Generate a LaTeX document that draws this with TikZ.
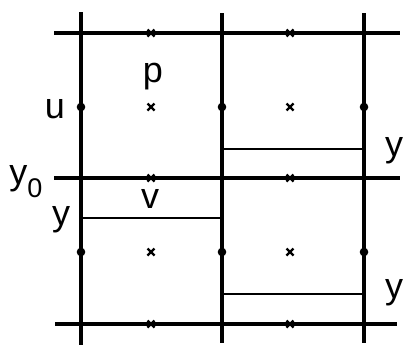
\documentclass[tikz,border=0pt]{standalone}
\usepackage{fontspec}
\setmainfont{Liberation Sans}
\usetikzlibrary{calc}
\tikzset{
  gridline/.style={line width=3.3pt},
  cutline/.style={line width=2pt},
  lab/.style={font=\fontsize{36}{36}\selectfont, inner sep=0pt, anchor=base}
}
\newcommand{\xmark}[1]{%
  \draw[line width=2.3pt] ($(#1)+(-3.5,-3.5)$) -- ($(#1)+(3.5,3.5)$);
  \draw[line width=2.3pt] ($(#1)+(-3.5,3.5)$) -- ($(#1)+(3.5,-3.5)$);}

\begin{document}
\begin{tikzpicture}[x=1pt,y=-1pt]
  \useasboundingbox (0,0) rectangle (403,349);
  % ends of the grid lines
  \coordinate (aT) at (81,12);   \coordinate (aB) at (81,345);
  \coordinate (bT) at (222,13);  \coordinate (bB) at (222,343);
  \coordinate (cT) at (364,13);  \coordinate (cB) at (364,343);
  \coordinate (hL1) at (54,33);  \coordinate (hR1) at (400,33);
  \coordinate (hL2) at (54,178); \coordinate (hR2) at (400,178);
  \coordinate (hL3) at (55,324); \coordinate (hR3) at (397,324);
  \draw[gridline] (aT) -- (aB);
  \draw[gridline] (bT) -- (bB);
  \draw[gridline] (cT) -- (cB);
  \draw[gridline] (hL1) -- (hR1);
  \draw[gridline] (hL2) -- (hR2);   % y_0
  \draw[gridline] (hL3) -- (hR3);
  % the shifted levels y
  \coordinate (s1) at (222,149); \coordinate (t1) at (364,149);
  \coordinate (s2) at (81,218);  \coordinate (t2) at (222,218);
  \coordinate (s3) at (222,294); \coordinate (t3) at (364,294);
  \draw[cutline] (s1) -- (t1);
  \draw[cutline] (s2) -- (t2);
  \draw[cutline] (s3) -- (t3);
  % dots on the vertical lines
  \foreach \x in {81,222,364}{
    \fill (\x,107) circle (4.3pt);
    \fill (\x,252) circle (4.3pt);
  }
  % crosses
  \foreach \x in {151,290}{
    \foreach \y in {33,107,178,252,324}{
      \coordinate (m) at (\x,\y);
      \xmark{m}
    }
  }
  \node[lab] (p)  at (153,82)  {p};
  \node[lab] (u)  at (55,118)  {u};
  \node[lab] (v)  at (150,208) {v};
  \node[lab] (y0) at (26,184)  {y\raisebox{-13pt}{\fontsize{27}{27}\selectfont 0}};
  \node[lab] (yl) at (61,225)  {y};
  \node[lab] (yr) at (394,156) {y};
  \node[lab] (yb) at (394,298) {y};
\end{tikzpicture}
\end{document}
